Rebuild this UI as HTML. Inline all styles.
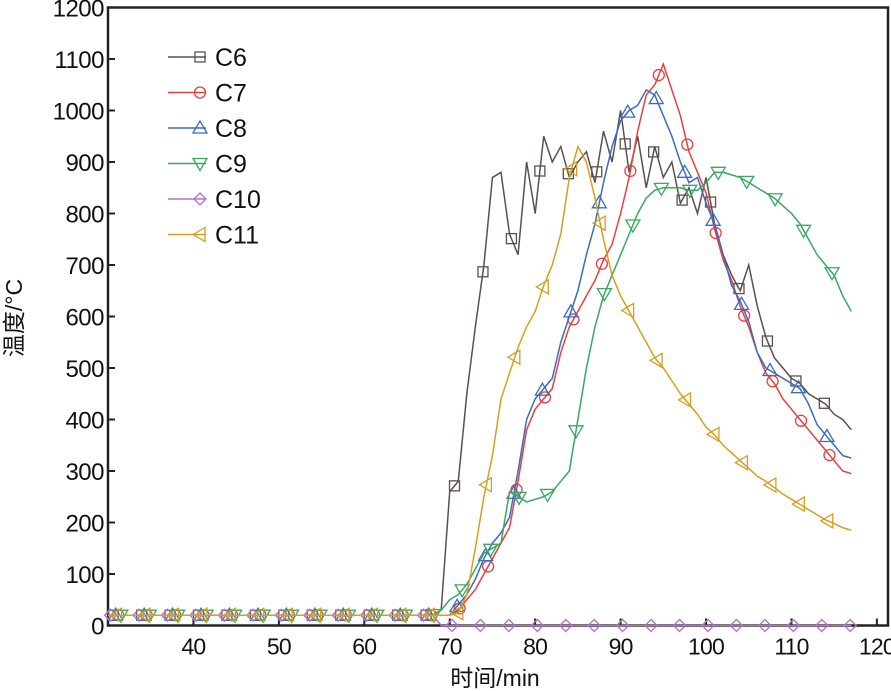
<!DOCTYPE html>
<html><head><meta charset="utf-8"><style>
html,body{margin:0;padding:0;background:#fff;}
svg{display:block;font-family:"Liberation Sans","Noto Sans CJK SC",sans-serif;}
</style></head><body>
<svg id="chart" width="891" height="691"></svg>
<script>
const times=[30,31,32,33,34,35,36,37,38,39,40,41,42,43,44,45,46,47,48,49,50,51,52,53,54,55,56,57,58,59,60,61,62,63,64,65,66,67,68,69,70,71,72,73,74,75,76,77,78,79,80,81,82,83,84,85,86,87,88,89,90,91,92,93,94,95,96,97,98,99,100,101,102,103,104,105,106,107,108,109,110,111,112,113,114,115,116,117];
const base=new Array(39).fill(20);
const c6=base.concat([30,260,280,450,580,700,870,880,760,720,900,800,950,900,930,870,900,920,860,960,900,1000,880,950,850,930,870,900,820,850,800,870,780,720,680,650,700,620,560,520,500,480,470,450,440,430,410,400,380]);
const c7=base.concat([20,20,30,50,70,100,130,160,190,280,380,420,440,460,530,580,610,640,670,710,740,800,870,960,1030,1050,1090,1040,990,920,880,840,770,710,670,620,580,530,490,470,440,420,400,380,360,340,320,300,295]);
const c8=base.concat([20,20,40,60,90,130,160,180,210,300,400,440,460,480,550,600,650,720,780,860,930,980,1000,1010,1040,1030,990,950,900,860,870,820,780,720,660,630,590,530,500,490,480,470,460,430,390,370,350,330,325]);
const c9=base.concat([30,50,60,80,110,140,150,160,260,250,240,245,250,260,280,300,400,500,580,640,680,720,760,800,830,845,850,850,850,845,845,860,880,880,875,870,860,850,840,830,815,800,780,750,720,700,680,640,610,575]);
const c10=base.concat(new Array(49).fill(0));
const c11=base.concat([20,20,25,60,150,250,330,440,490,540,580,610,660,700,760,870,930,900,830,750,680,640,610,580,550,520,500,475,450,430,410,385,370,350,335,320,305,290,280,268,255,245,235,225,215,205,198,190,185]);
const seriesNames=["C6","C7","C8","C9","C10","C11"];
const xTicks=[40,50,60,70,80,90,100,110,120];
const yTicks=[0,100,200,300,400,500,600,700,800,900,1000,1100,1200];

const NS="http://www.w3.org/2000/svg";
const svg=document.getElementById('chart');
const L=108,R=888,T=7.5,B=625.5;
const xS=v=>L+(v-30)*(R-L)/(121.3-30);
const yS=v=>B-v*(B-T)/1200;
function mk(tag,attrs,parent){const e=document.createElementNS(NS,tag);for(const k in attrs)e.setAttribute(k,attrs[k]);(parent||svg).appendChild(e);return e;}
const colors=["#5a5050","#e8403f","#3a6cc0","#3aa860","#b070c8","#d4a020"];
const data=[c6,c7,c8,c9,c10,c11];
const offs=[0.6,1.2,0.9,1.5,0.3,1.0];
function marker(kind,x,y,col,g){
  let e;
  if(kind==0)e=mk('rect',{x:x-5,y:y-5,width:10,height:10},g);
  else if(kind==1)e=mk('circle',{cx:x,cy:y,r:5.5},g);
  else if(kind==2)e=mk('polygon',{points:`${x},${y-7} ${x-7},${y+5} ${x+7},${y+5}`},g);
  else if(kind==3)e=mk('polygon',{points:`${x},${y+7} ${x-7},${y-5} ${x+7},${y-5}`},g);
  else if(kind==4)e=mk('polygon',{points:`${x},${y-6} ${x+6},${y} ${x},${y+6} ${x-6},${y}`},g);
  else e=mk('polygon',{points:`${x-7},${y} ${x+5},${y-7} ${x+5},${y+7}`},g);
  e.setAttribute('fill','none');e.setAttribute('stroke',col);e.setAttribute('stroke-width','1.3');
  
  
}
function interp(arr,t){const i=Math.floor(t-30);const f=t-30-i;if(i>=arr.length-1)return arr[arr.length-1];return arr[i]*(1-f)+arr[i+1]*f;}
const axG=mk('g',{});


yTicks.forEach(v=>{
  mk('line',{x1:L,x2:L+7,y1:yS(v),y2:yS(v),stroke:'#222','stroke-width':2},axG);
  const t=mk('text',{x:L-4,y:yS(v)+9,'text-anchor':'end','font-size':24,fill:'#111','letter-spacing':-0.5},axG);
  
  
  t.textContent=v;
});
xTicks.forEach(v=>{
  mk('line',{x1:xS(v),x2:xS(v),y1:B,y2:B-7,stroke:'#222','stroke-width':2},axG);
  const t=mk('text',{x:xS(v),y:B+29,'text-anchor':'middle','font-size':23,fill:'#111','letter-spacing':-0.8},axG);
  
  
  t.textContent=v;
});
data.forEach((arr,s)=>{
  const g=mk('g',{});
  
  
  const pts=arr.map((v,i)=>xS(times[i])+','+yS(v)).join(' ');
  mk('polyline',{points:pts,fill:'none',stroke:colors[s],'stroke-width':1.5},g);
  for(let t=30+offs[s];t<=117;t+=3.33){marker(s,xS(t),yS(interp(arr,t)),colors[s],g);}
});
mk('rect',{x:L,y:T,width:R-L,height:B-T,fill:'none',stroke:'#222','stroke-width':2.5},axG);
const lg=mk('g',{});


seriesNames.forEach((n,i)=>{
  const y=57+i*35.5;
  const e=mk('g',{},lg);
  
  
  mk('line',{x1:168,x2:206,y1:y,y2:y,stroke:colors[i],'stroke-width':1.5},e);
  marker(i,200,y,colors[i],e);
  const t=mk('text',{x:215,y:y+9,'font-size':25,fill:'#111'},e);
  t.textContent=n;
});
const yt=mk('text',{x:22,y:318,'text-anchor':'middle','font-size':23,fill:'#111',transform:'rotate(-90 22 318)'});


yt.textContent='温度/°C';
const xt=mk('text',{x:495,y:686,'text-anchor':'middle','font-size':23,fill:'#111'});


xt.textContent='时间/min';
</script>
</body></html>
